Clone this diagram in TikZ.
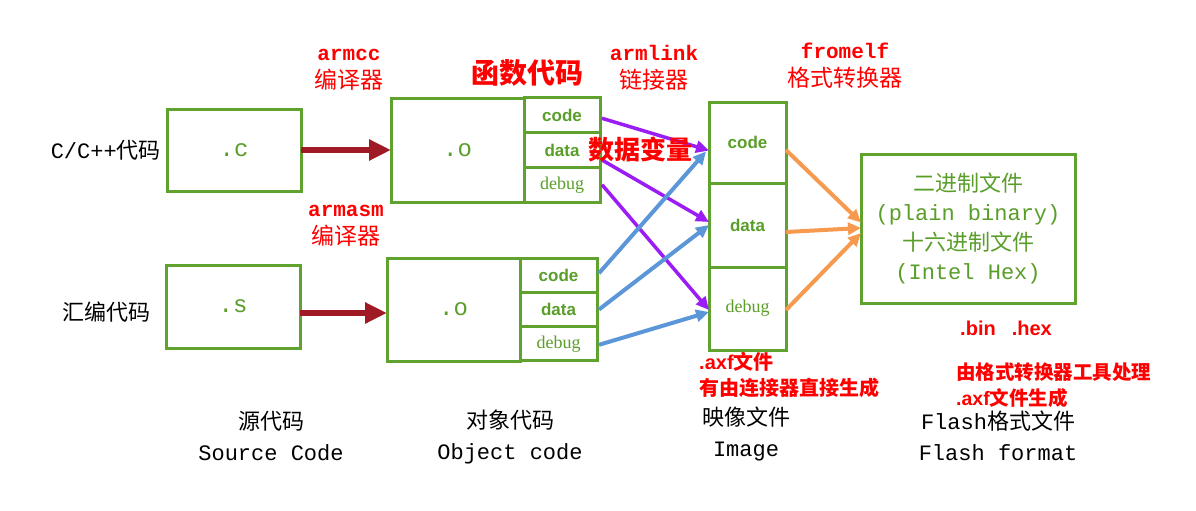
\documentclass[tikz,border=0pt]{standalone}
\usepackage{fontspec}
\setmainfont{Liberation Sans}
\newfontfamily\cjk{Noto Sans CJK SC}
\newfontfamily\mono{Liberation Mono}
\newfontfamily\serifx{Liberation Serif}
\usetikzlibrary{arrows.meta,calc}
\definecolor{boxgreen}{HTML}{5FA22E}
\definecolor{txtgreen}{HTML}{5A9E2A}
\definecolor{darkred}{HTML}{A01A25}
\definecolor{violet}{HTML}{9B1CF5}
\definecolor{skyblue}{HTML}{5B96D8}
\definecolor{orng}{HTML}{F59A4E}
\tikzset{
  box/.style={draw=boxgreen, line width=3pt, rectangle, inner sep=0pt, outer sep=0pt, text=txtgreen},
  redlab/.style={text=red, align=center, inner sep=0pt, font=\fontsize{21}{28}\selectfont},
  blacklab/.style={text=black, align=center, inner sep=0pt, font=\fontsize{22}{31}\selectfont},
  redarrow/.style={draw=darkred, line width=6pt, -{Triangle[length=22pt,width=20pt]}},
  purplearrow/.style={draw=violet, line width=3.5pt, -{Triangle[length=13pt,width=12pt]}},
  bluearrow/.style={draw=skyblue, line width=4pt, -{Triangle[length=13pt,width=12pt]}},
  orangearrow/.style={draw=orng, line width=4pt, -{Triangle[length=13pt,width=12pt]}},
  sub/.style={box, font=\fontsize{17}{18}\selectfont\bfseries},
  subdbg/.style={box, font=\serifx\fontsize{18}{18}\selectfont},
  ext/.style={box, font=\mono\fontsize{24}{24}\selectfont},
}
\begin{document}
\begin{tikzpicture}[x=1pt,y=-1pt]
\useasboundingbox[fill=white] (0,0) rectangle (1196,511);
% source boxes
\node[ext, minimum width=134pt, minimum height=82pt] (c) at (234,150) {.c};
\node[ext, minimum width=134pt, minimum height=83pt] (s) at (233,306.5) {.s};
% top object
\node[ext, minimum width=133pt, minimum height=104pt] (to) at (457.5,150) {.o};
\node[sub, minimum width=76pt, minimum height=34.7pt] (tcode) at (562,115.3) {code};
\node[sub, minimum width=76pt, minimum height=34.7pt] (tdata) at (562,150) {data};
\node[subdbg, minimum width=76pt, minimum height=34.7pt] (tdebug) at (562,184.7) {debug};
% bottom object
\node[ext, minimum width=133pt, minimum height=103pt] (bo) at (453.5,309.5) {.o};
\node[sub, minimum width=77pt, minimum height=34.3pt] (bcode) at (558.5,275.2) {code};
\node[sub, minimum width=77pt, minimum height=34.3pt] (bdata) at (558.5,309.5) {data};
\node[subdbg, minimum width=77pt, minimum height=34.3pt] (bdebug) at (558.5,343.8) {debug};
% image
\node[sub, minimum width=77pt, minimum height=81pt] (icode) at (747.5,142.5) {code};
\node[sub, minimum width=77pt, minimum height=84pt] (idata) at (747.5,225) {data};
\node[subdbg, minimum width=77pt, minimum height=83pt] (idebug) at (747.5,308.5) {debug};
% binary
\node[box, minimum width=214pt, minimum height=149pt, align=center, font=\fontsize{22}{29.5}\selectfont] (bin) at (968,228.5)
  {{\cjk 二进制文件}\\{\mono (plain binary)}\\{\cjk 十六进制文件}\\{\mono (Intel Hex)}};
% red arrows
\draw[redarrow] (c.east) -- (to.west);
\draw[redarrow] ($(s.east)+(0,6.5)$) -- ($(bo.west)+(0,3.5)$);
% purple
\draw[purplearrow] ($(tcode.east)+(2,3)$) -- ($(icode.west)+(0,8)$);
\draw[purplearrow] ($(tdata.east)+(2,10)$) -- ($(idata.west)+(0,-3)$);
\draw[purplearrow] ($(tdebug.east)+(2,0)$) -- ($(idebug.west)+(0,1.5)$);
% blue
\draw[bluearrow] ($(bcode.east)+(2,-2)$) -- ($(icode.west)+(-3,9)$);
\draw[bluearrow] ($(bdata.east)+(2,0)$) -- ($(idata.west)+(0,0)$);
\draw[bluearrow] ($(bdebug.east)+(2,1)$) -- ($(idebug.west)+(0,3.5)$);
% orange
\draw[orangearrow] ($(icode.east)+(0,7.5)$) -- ($(bin.west)+(0,-6)$);
\draw[orangearrow] ($(idata.east)+(0,7)$) -- ($(bin.west)+(0,-0.5)$);
\draw[orangearrow] ($(idebug.east)+(0,1.5)$) -- ($(bin.west)+(0,4.5)$);
% red labels
\node[redlab] (l1) at (349,70) {{\mono\bfseries armcc}\\{\cjk\fontsize{23}{28}\selectfont 编译器}};
\node[redlab] (l2) at (346,226) {{\mono\bfseries armasm}\\{\cjk\fontsize{23}{28}\selectfont 编译器}};
\node[redlab] (l3) at (654,68) {{\mono\bfseries armlink}\\{\cjk\fontsize{23}{28}\selectfont 链接器}};
\node[redlab] (l4) at (845,66) {{\mono\bfseries fromelf}\\{\cjk\fontsize{23}{28}\selectfont 格式转换器}};
\node[text=red, inner sep=0pt, font=\cjk\bfseries\fontsize{28}{30}\selectfont] (l5) at (527,73) {函数代码};
\node[text=red, inner sep=0pt, font=\cjk\bfseries\fontsize{26}{28}\selectfont] (l6) at (640,150) {数据变量};
\node[text=red, inner sep=0pt, font=\bfseries\fontsize{20}{22}\selectfont] (l7) at (1006,328) {.bin\hspace{16pt}.hex};
\node[text=red, inner sep=0pt, anchor=west, align=left, font=\bfseries\fontsize{20}{26}\selectfont] (l8) at (699,375) {.axf{\cjk 文件}\\{\cjk 有由连接器直接生成}};
\node[text=red, inner sep=0pt, anchor=west, align=left, font=\bfseries\fontsize{19.5}{26}\selectfont] (l9) at (956,385) {{\cjk 由格式转换器工具处理}\\.axf{\cjk 文件生成}};
% black labels
\node[blacklab, anchor=east] (k1) at (161,150) {{\mono C/C++}{\cjk 代码}};
\node[blacklab, anchor=east] (k2) at (151,312) {\cjk 汇编代码};
\node[blacklab] (k3) at (271,436) {{\cjk 源代码}\\{\mono Source Code}};
\node[blacklab] (k4) at (510,437) {{\cjk 对象代码}\\{\mono Object code}};
\node[blacklab] (k5) at (746,434) {{\cjk 映像文件}\\{\mono Image}};
\node[blacklab] (k6) at (998,436) {{\mono Flash}{\cjk 格式文件}\\{\mono Flash format}};
\end{tikzpicture}
\end{document}
